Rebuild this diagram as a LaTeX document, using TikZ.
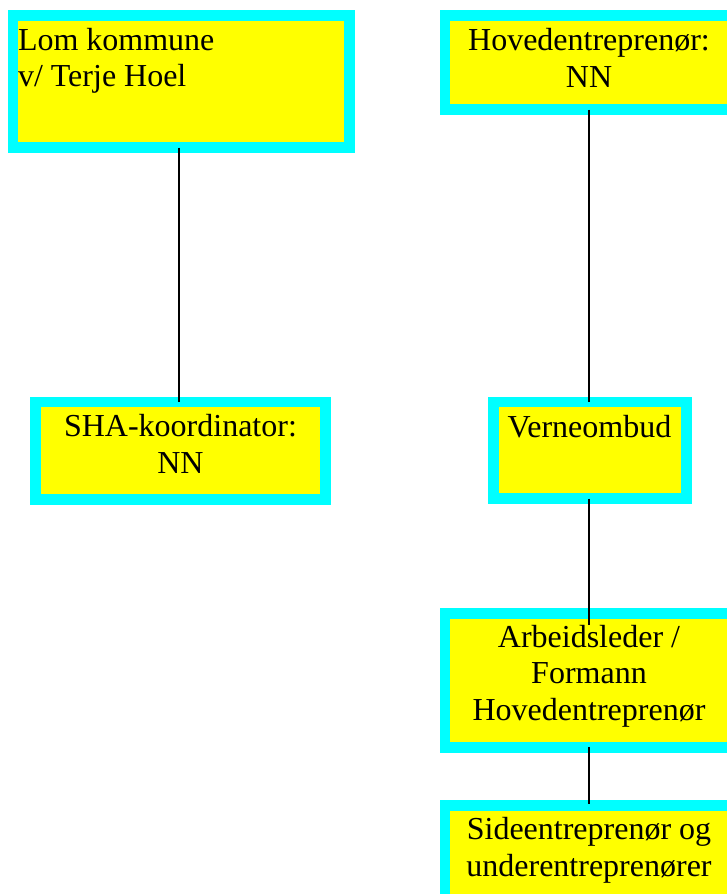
\documentclass[tikz,border=0pt]{standalone}
\usepackage{fontspec}
\setmainfont{Liberation Serif}
\definecolor{boxcyan}{RGB}{0,255,255}
\definecolor{boxyellow}{RGB}{255,255,0}
\begin{document}
\begin{tikzpicture}[x=1pt,y=-1pt,
  orgbox/.style={draw=boxcyan,fill=boxyellow,line width=10.5pt,inner sep=0pt,outer sep=0pt},
  lbl/.style={inner sep=0pt,outer sep=0pt,font=\fontsize{32}{36.5}\selectfont},
  conn/.style={draw=black,line width=1.8pt}]
\useasboundingbox (0,0) rectangle (727,894);
\clip (0,0) rectangle (727,894);
% boxes (stroke-centre geometry)
\node[orgbox,minimum width=336.5pt,minimum height=132pt,anchor=north west] (b1) at (13,15.5) {};
\node[orgbox,minimum width=300pt,minimum height=94pt,anchor=north west] (b2) at (445,15.5) {};
\node[orgbox,minimum width=290pt,minimum height=97.5pt,anchor=north west] (sha) at (35.5,402) {};
\node[orgbox,minimum width=193pt,minimum height=96.5pt,anchor=north west] (vo) at (493.5,402) {};
\node[orgbox,minimum width=300pt,minimum height=134pt,anchor=north west] (al) at (445,613.5) {};
\node[orgbox,minimum width=300pt,minimum height=110pt,anchor=north west] (se) at (445,805.5) {};
% texts (base anchor = baseline of last line)
\node[lbl,anchor=base west,align=left] (t1) at (18,86.7) {Lom kommune\\v/ Terje Hoel};
\node[lbl,anchor=base,align=center] (t2) at (589,87.3) {Hovedentreprenør:\\NN};
\node[lbl,anchor=base,align=center] (t3) at (180.5,473) {SHA-koordinator:\\NN};
\node[lbl,anchor=base,align=center] (t4) at (589.5,437) {Verneombud};
\node[lbl,anchor=base,align=center] (t5) at (589,720) {Arbeidsleder /\\Formann\\Hovedentreprenør};
\node[lbl,anchor=base,align=center] (t6) at (589,876) {Sideentreprenør og\\underentreprenører};
% connectors
\coordinate (x1) at (179,0);
\coordinate (x2) at (589,0);
\draw[conn] (b1.south -| x1) -- (sha.north -| x1);
\draw[conn] (b2.south -| x2) -- (vo.north -| x2);
\draw[conn] (vo.south -| x2) -- ([yshift=-11.5pt]al.north -| x2);
\draw[conn] ([yshift=0.5pt]al.south -| x2) -- ([yshift=1.5pt]se.north -| x2);
\end{tikzpicture}
\end{document}
